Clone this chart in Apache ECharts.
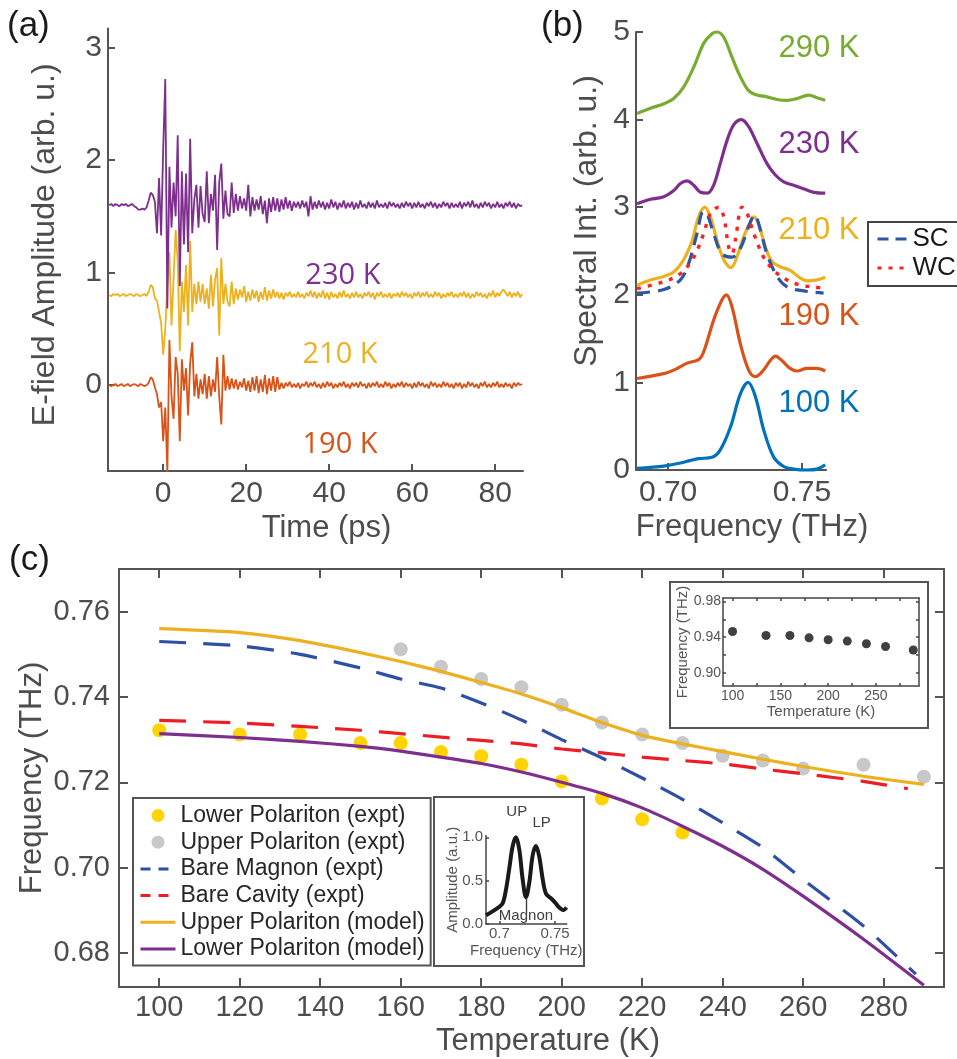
<!DOCTYPE html>
<html>
<head>
<meta charset="utf-8">
<title>Magnon polariton spectra</title>
<script src="https://cdn.jsdelivr.net/npm/echarts@6.0.0/dist/echarts.min.js"></script>
<style>
    * { margin: 0; padding: 0; }
    body { background: #fff; }
    #main { width: 957px; height: 1059px; }
</style>
</head>
<body>
<div id="main"></div>
<script>
// ---- (a) time traces: one sample every 0.5 ps from -13 ps, in 0.01 units above the trace baseline
var traceT0 = -13, traceDt = 0.5;
var trace230 = [
    0,1,-1,1,0,-1,1,0,1,-1,  0,1,-1,-2,-4,-4,-3,-4,-2,4,
    11,9,3,-25,24,-27,50,112,-92,34,  -20,20,-10,62,-72,30,-35,28,-42,59,
    -25,5,18,-20,17,-8,-15,30,-16,10,  -5,27,-40,20,37,-12,13,-8,-10,20,
    -7,10,-5,8,-3,6,-5,18,-10,7,  -5,5,-4,8,-8,4,-16,6,-6,7,
    -5,6,-6,5,-4,7,-3,4,-5,3,  -2,3,-3,4,-2,3,-10,8,-4,3,
    -3,4,-2,3,-4,2,-3,5,-2,3,  -4,2,-2,4,-3,2,-2,3,-4,2,
    -3,4,-2,1,-3,3,-2,2,-3,4,  -2,1,-2,2,-3,3,-1,2,-2,1,
    -3,2,-2,3,-1,2,-3,2,-2,3,  -2,1,-3,2,-1,3,-2,2,-3,1,
    -2,3,-1,2,-3,2,-2,1,-2,3,  -3,2,-1,3,-2,4,-2,1,-3,2,
    -2,3,-1,2,-3,1,-2,3,-2,1,  -3,2,-1,3,-2,2,-3,1,-1,0
];
var trace210 = [
    0,-1,1,0,1,-1,0,1,-1,0,  1,0,-1,1,0,-1,0,1,-1,3,
    9,7,-3,-5,-15,-25,-53,-30,10,38,  -27,15,58,30,-50,12,-15,27,-27,48,
    -15,10,-8,12,-6,10,-8,6,-12,18,  -10,14,24,-36,33,-8,10,-6,-10,12,
    -8,6,-4,5,-2,8,-6,3,-5,5,  -3,4,-6,3,-4,7,-5,4,-3,5,
    -2,3,-3,2,-4,2,-1,3,-2,1,  -2,3,-2,1,-3,2,-1,4,-2,3,
    -3,2,-2,4,-3,2,-4,3,-2,1,  -3,3,-2,4,-2,1,-3,2,-2,3,
    -2,1,-3,2,-1,3,-2,2,-4,2,  -1,3,-2,1,-2,2,-3,1,-1,2,
    -2,3,-1,2,-2,1,-3,2,-1,3,  -2,2,-1,3,-2,1,-2,3,-1,2,
    -3,1,-2,2,-1,3,-2,1,-2,2,  -1,3,-2,2,-3,1,-2,3,-1,2,
    -2,1,-3,2,-1,4,-2,2,-1,3,  5,2,-1,3,-2,2,-1,3,-2,1
];
var trace190 = [
    0,-1,0,1,-1,0,1,-1,0,1,  -1,0,1,0,-1,1,0,-1,0,2,
    7,5,-2,-8,-20,-15,-50,-20,-77,40,  -10,-30,25,10,-50,23,-5,15,-27,20,
    38,-10,10,-12,5,-8,10,-12,8,-10,  5,-6,25,-10,-35,27,-5,8,-4,6,
    -3,5,-4,3,-2,6,-5,4,-6,7,  -5,8,-7,5,-6,9,-8,6,-5,8,
    -6,7,-4,2,-3,2,-1,3,-2,1,  -2,2,-3,1,-1,3,-2,2,-1,3,
    -2,1,-3,2,-2,3,-1,2,-3,1,  -2,2,-1,3,-2,1,-3,2,-1,2,
    -2,3,-1,1,-3,2,-2,2,-1,3,  -2,1,-2,3,-1,2,-3,1,-2,2,
    -1,3,-2,2,-1,1,-3,2,-2,3,  -1,2,-2,1,-3,3,-1,2,-2,1,
    -2,3,-1,2,-2,1,-3,2,-1,2,  -3,1,-2,3,-1,2,-2,1,-3,2,
    -1,3,-2,1,-2,2,-1,3,-2,1,  -2,2,-1,1,-3,2,-1,2,0,1
];
var base230 = 1.6, base210 = 0.8, base190 = 0;

// ---- (b) spectra (already offset by 1 per temperature)
var f100 = [0.6884,0.6934,0.6984,0.7046,0.7084,0.7114,0.7164,0.7195,0.7233,0.7270,0.7299,0.7326,0.7357,0.7394,0.7432,0.7469,0.7519,0.7556,0.7587];
var s100 = [0.02,0.03,0.045,0.08,0.11,0.13,0.145,0.23,0.49,0.87,1.0,0.84,0.46,0.15,0.04,0.01,0.0,0.01,0.06];
var f190 = [0.6884,0.6984,0.7021,0.7071,0.7114,0.7133,0.7170,0.7201,0.7218,0.7239,0.7270,0.7301,0.7326,0.7351,0.7382,0.7401,0.7425,0.7456,0.7481,0.7519,0.7556,0.7587];
var s190 = [1.045,1.10,1.14,1.22,1.26,1.35,1.71,1.94,2.0,1.86,1.44,1.14,1.065,1.12,1.25,1.30,1.25,1.16,1.13,1.16,1.16,1.13];
var f210 = [0.6884,0.6934,0.6984,0.7021,0.7058,0.7090,0.7114,0.7137,0.7158,0.7183,0.7208,0.7235,0.7257,0.7282,0.7307,0.7320,0.7338,0.7363,0.7388,0.7419,0.7456,0.7494,0.7519,0.7556,0.7587];
var s210 = [2.11,2.17,2.21,2.26,2.40,2.62,2.89,3.0,2.89,2.62,2.40,2.31,2.43,2.66,2.83,2.89,2.81,2.55,2.38,2.32,2.28,2.19,2.16,2.17,2.20];
var fSC = [0.6884,0.6984,0.7046,0.7077,0.7108,0.7131,0.7146,0.7170,0.7201,0.7239,0.7270,0.7301,0.7323,0.7345,0.7369,0.7407,0.7444,0.7494,0.7544,0.7581];
var sSC = [2.02,2.06,2.17,2.36,2.70,2.95,2.92,2.70,2.47,2.43,2.53,2.78,2.91,2.74,2.47,2.21,2.09,2.05,2.03,2.02];
var fWC = [0.6884,0.6984,0.7046,0.7096,0.7133,0.7158,0.7189,0.7208,0.7226,0.7239,0.7251,0.7276,0.7295,0.7320,0.7357,0.7394,0.7444,0.7494,0.7544,0.7587];
var sWC = [2.07,2.15,2.24,2.43,2.70,2.93,3.0,2.89,2.55,2.47,2.62,3.0,2.93,2.70,2.43,2.28,2.17,2.11,2.09,2.07];
var f230 = [0.6884,0.6934,0.6984,0.7021,0.7046,0.7071,0.7096,0.7121,0.7146,0.7170,0.7195,0.7220,0.7245,0.7274,0.7301,0.7332,0.7369,0.7400,0.7432,0.7469,0.7506,0.7544,0.7587];
var s230 = [3.04,3.09,3.12,3.19,3.27,3.30,3.25,3.17,3.16,3.25,3.50,3.76,3.94,4.0,3.92,3.73,3.50,3.37,3.29,3.25,3.21,3.17,3.16];
var f290 = [0.6884,0.6934,0.6984,0.7021,0.7058,0.7096,0.7133,0.7164,0.7183,0.7208,0.7239,0.7270,0.7301,0.7332,0.7369,0.7407,0.7444,0.7481,0.7525,0.7556,0.7587];
var s290 = [4.07,4.13,4.18,4.24,4.37,4.60,4.87,4.98,5.0,4.94,4.71,4.49,4.33,4.28,4.26,4.23,4.22,4.24,4.28,4.25,4.22];

// ---- (c) polariton branches vs temperature
var tempLP = [100,120,135,150,160,170,180,190,200,210,220,230];
var freqLP = [0.7322,0.7312,0.7312,0.7292,0.7292,0.7271,0.7261,0.7241,0.7202,0.7162,0.7113,0.7082];
var tempUP = [160,170,180,190,200,210,220,230,240,250,260,275,290];
var freqUP = [0.7512,0.7471,0.7442,0.7423,0.7382,0.7340,0.7312,0.7292,0.7262,0.7251,0.7232,0.7241,0.7213];
var tempModel = [100,120,135,150,160,170,180,190,200,210,220,230,240,250,260,275,290];
var upModel = [0.7560,0.7551,0.7532,0.7504,0.7483,0.7460,0.7434,0.7407,0.7375,0.7340,0.7310,0.7290,0.7272,0.7254,0.7237,0.7214,0.7195];
var lpModel = [0.7314,0.7305,0.7296,0.7284,0.7273,0.7259,0.7244,0.7224,0.7200,0.7174,0.7140,0.7097,0.7050,0.6996,0.6933,0.6832,0.6724];
var tempMagnon = [100,120,135,150,160,170,180,190,200,210,220,230,240,250,260,275,288];
var magnonBare = [0.7530,0.7520,0.7500,0.7468,0.7442,0.7421,0.7386,0.7346,0.7300,0.7257,0.7210,0.7160,0.7105,0.7047,0.6972,0.6863,0.6750];
var tempCavity = [100,120,135,150,160,170,180,190,200,210,220,230,240,250,260,275,286];
var cavityBare = [0.7345,0.7339,0.7331,0.7322,0.7314,0.7306,0.7298,0.7290,0.7278,0.7269,0.7259,0.7251,0.7243,0.7231,0.7220,0.7202,0.7185];

// inset: high-frequency mode
var insetTemp = [100,135,160,180,200,220,240,260,289];
var insetFreq = [0.9463,0.9418,0.9418,0.9392,0.9370,0.9355,0.9325,0.9295,0.9255];
// inset: 210 K spectrum
var insetF = [0.688,0.6931,0.6991,0.7030,0.7060,0.7089,0.7120,0.7149,0.7179,0.7209,0.7239,0.7269,0.7299,0.7329,0.7358,0.7389,0.7419,0.7461,0.7499,0.7538,0.7574,0.7604];
var insetAmp = [0.10,0.14,0.19,0.24,0.40,0.64,0.90,1.0,0.86,0.52,0.31,0.48,0.79,0.90,0.78,0.52,0.35,0.30,0.25,0.19,0.16,0.19];

// tick values
var timeTicks = [0, 20, 40, 60, 80];
var ampTicks = [0, 1, 2, 3];
var specTicks = [0, 1, 2, 3, 4, 5];
var freqTicks = [0.70, 0.75];
var tempTicks = [100,120,140,160,180,200,220,240,260,280];
var freqCTicks = [0.68, 0.70, 0.72, 0.74, 0.76];

var FONT = 'Liberation Sans';
var AXIS = '#555555';
var TXT = '#4d4d4d';
var PURPLE = '#7E2F8E', YELLOW = '#EDB120', ORANGE = '#D95319', BLUE = '#0072BD', GREEN = '#77AC30';

function zip(xs, ys) {
    return xs.map(function (x, i) { return [x, ys[i]]; });
}
function traceData(arr, base) {
    return arr.map(function (d, i) { return [traceT0 + i * traceDt, base + d / 100]; });
}
function fixed(n) {
    return function (v) { return v.toFixed(n); };
}

function makeAxis(p) {
    var col = p.color || AXIS;
    return {
        type: 'value', gridIndex: p.grid, min: p.min, max: p.max, position: p.position,
        name: p.name || '', nameLocation: 'middle', nameGap: p.nameGap || 0, nameMoveOverlap: false,
        nameTextStyle: { fontFamily: FONT, fontSize: p.nameSize || 31, color: p.txt || TXT, padding: p.namePad || 0 },
        axisLine: { show: true, onZero: false, lineStyle: { color: col, width: p.lw || 2 } },
        axisTick: { show: true, inside: true, length: p.tickLen || 7, customValues: p.ticks, lineStyle: { color: col, width: p.lw || 2 } },
        axisLabel: { show: !!p.labels, customValues: p.labels, formatter: p.fmt, margin: p.margin || 8,
            fontFamily: FONT, fontSize: p.fontSize || 30, color: p.txt || TXT },
        splitLine: { show: false }
    };
}

function line(name, xi, yi, data, color, width, type, extra) {
    var s = {
        type: 'line', name: name, xAxisIndex: xi, yAxisIndex: yi, data: data,
        symbol: 'none', showSymbol: false, clip: false,
        lineStyle: { color: color, width: width, type: type || 'solid' },
        itemStyle: { color: color }
    };
    for (var k in extra) s[k] = extra[k];
    return s;
}

// legend entry for a plain line: hide the marker that the line legend icon adds
function lineKey(name, dash) {
    return { name: name, itemStyle: { opacity: 0 }, lineStyle: { type: dash || 'solid', width: 3 } };
}

var chart = echarts.init(document.getElementById('main'));

var option = {
    animation: false,
    backgroundColor: '#fff',
    grid: [
        { left: 108, top: 28.5, width: 415, height: 442.5, outerBoundsMode: 'none' },
        { left: 636, top: 32, width: 190, height: 438, outerBoundsMode: 'none' },
        { left: 119, top: 569, width: 825, height: 418, outerBoundsMode: 'none' },
        { left: 723, top: 598, width: 196, height: 88, outerBoundsMode: 'none' },
        { left: 486, top: 835.6, width: 80.7, height: 88.4, outerBoundsMode: 'none' }
    ],
    xAxis: [
        makeAxis({ grid: 0, min: -13.3, max: 86.7, position: 'bottom', ticks: timeTicks, labels: timeTicks,
            name: 'Time (ps)', nameGap: 42, namePad: [0, 0, 0, 22], margin: 8 }),
        makeAxis({ grid: 1, min: 0.688, max: 0.759, position: 'bottom', ticks: freqTicks, labels: freqTicks, fmt: fixed(2),
            name: 'Frequency (THz)', nameGap: 42, namePad: [0, 0, 0, 42], margin: 8 }),
        makeAxis({ grid: 2, min: 90, max: 295, position: 'bottom', ticks: tempTicks, labels: tempTicks, tickLen: 9,
            name: 'Temperature (K)', nameGap: 39, namePad: [0, 0, 0, 33], margin: 6, fontSize: 29 }),
        makeAxis({ grid: 2, min: 90, max: 295, position: 'top', ticks: tempTicks, tickLen: 9 }),
        makeAxis({ grid: 3, min: 90, max: 295, position: 'bottom', ticks: [100,125,150,175,200,225,250,275], labels: [100,150,200,250],
            name: 'Temperature (K)', nameGap: 18, nameSize: 15, fontSize: 14, margin: 3, tickLen: 3, lw: 1.5, color: '#444', txt: '#555' }),
        makeAxis({ grid: 3, min: 90, max: 295, position: 'top', ticks: [100,125,150,175,200,225,250,275], tickLen: 3, lw: 1.5, color: '#444' }),
        makeAxis({ grid: 4, min: 0.688, max: 0.7605, position: 'bottom', ticks: [0.7, 0.75], labels: [0.7, 0.75],
            name: 'Frequency (THz)', nameGap: 19, nameSize: 15, fontSize: 15, margin: 2, tickLen: 3, lw: 1.5, color: '#444', txt: '#555' })
    ],
    yAxis: [
        makeAxis({ grid: 0, min: -0.764, max: 3.17, position: 'left', ticks: ampTicks, labels: ampTicks,
            name: 'E-field Amplitude (arb. u.)', nameGap: 47, nameSize: 32, namePad: [0, 0, 0, 10], margin: 6 }),
        makeAxis({ grid: 1, min: 0, max: 5, position: 'left', ticks: specTicks, labels: specTicks,
            name: 'Spectral Int. (arb. u.)', nameGap: 33, nameSize: 32, namePad: [0, 0, 0, 60], margin: 6 }),
        makeAxis({ grid: 2, min: 0.672, max: 0.77, position: 'left', ticks: freqCTicks, labels: freqCTicks, fmt: fixed(2),
            name: 'Frequency (THz)', nameGap: 71, margin: 9, fontSize: 29, tickLen: 9 }),
        makeAxis({ grid: 2, min: 0.672, max: 0.77, position: 'right', ticks: freqCTicks, tickLen: 9 }),
        makeAxis({ grid: 3, min: 0.885, max: 0.984, position: 'left', ticks: [0.90,0.92,0.94,0.96,0.98], labels: [0.90,0.94,0.98], fmt: fixed(2),
            name: 'Frequency (THz)', nameGap: 33, nameSize: 15, fontSize: 14, margin: 2, tickLen: 3, lw: 1.5, color: '#444', txt: '#555' }),
        makeAxis({ grid: 3, min: 0.885, max: 0.984, position: 'right', ticks: [0.90,0.92,0.94,0.96,0.98], tickLen: 3, lw: 1.5, color: '#444' }),
        makeAxis({ grid: 4, min: 0, max: 1.02, position: 'left', ticks: [0, 0.5, 1], labels: [0, 0.5, 1], fmt: fixed(1),
            name: 'Amplitude (a.u.)', nameGap: 26, nameSize: 15, fontSize: 15, margin: 3, tickLen: 3, lw: 1.5, color: '#444', txt: '#555' })
    ],
    legend: [
        {
            orient: 'vertical', left: 133, top: 798, itemWidth: 35, itemHeight: 13, itemGap: 3.7,
            padding: [6, 6, 5, 6], borderColor: '#555', borderWidth: 2, backgroundColor: '#fff',
            textStyle: { fontFamily: FONT, fontSize: 23, lineHeight: 23, color: '#262626' },
            selectedMode: false,
            data: [
                { name: 'Lower Polariton (expt)', icon: 'circle' },
                { name: 'Upper Polariton (expt)', icon: 'circle' },
                lineKey('Bare Magnon (expt)', [10, 8]),
                lineKey('Bare Cavity (expt)', [10, 8]),
                lineKey('Upper Polariton (model)'),
                lineKey('Lower Polariton (model)')
            ]
        },
        {
            orient: 'vertical', left: 868, top: 222, itemWidth: 30, itemHeight: 14, itemGap: 3,
            padding: [4, 40, 5, 8], borderColor: '#444', borderWidth: 2, backgroundColor: '#fff',
            textStyle: { fontFamily: FONT, fontSize: 26, lineHeight: 26, color: '#1a1a1a' },
            selectedMode: false,
            data: [lineKey('SC', [11, 7]), lineKey('WC', [4, 7])]
        }
    ],
    series: [
        // (a)
        line('190 K trace', 0, 0, traceData(trace190, base190), ORANGE, 1.8),
        line('210 K trace', 0, 0, traceData(trace210, base210), YELLOW, 1.8),
        line('230 K trace', 0, 0, traceData(trace230, base230), PURPLE, 1.8),
        // (b)
        line('100 K', 1, 1, zip(f100, s100), BLUE, 3.2, null, { smooth: 0.35 }),
        line('190 K', 1, 1, zip(f190, s190), ORANGE, 3.2, null, { smooth: 0.35 }),
        line('210 K', 1, 1, zip(f210, s210), YELLOW, 3.2, null, { smooth: 0.35 }),
        line('SC', 1, 1, zip(fSC, sSC), '#2F55A5', 3.2, [13, 8], { smooth: 0.35 }),
        line('WC', 1, 1, zip(fWC, sWC), '#FF2020', 3.4, [4, 7], { smooth: 0.35 }),
        line('230 K', 1, 1, zip(f230, s230), PURPLE, 3.2, null, { smooth: 0.35 }),
        line('290 K', 1, 1, zip(f290, s290), GREEN, 3.2, null, { smooth: 0.35 }),
        // (c)
        { type: 'scatter', name: 'Lower Polariton (expt)', xAxisIndex: 2, yAxisIndex: 2, data: zip(tempLP, freqLP),
          symbol: 'circle', symbolSize: 14, itemStyle: { color: '#FFD400', opacity: 1 } },
        { type: 'scatter', name: 'Upper Polariton (expt)', xAxisIndex: 2, yAxisIndex: 2, data: zip(tempUP, freqUP),
          symbol: 'circle', symbolSize: 14, itemStyle: { color: '#C8C8C8', opacity: 1 } },
        line('Bare Magnon (expt)', 2, 2, zip(tempMagnon, magnonBare), '#2E4FA6', 3.2, [27, 17], { smooth: 0.2 }),
        line('Bare Cavity (expt)', 2, 2, zip(tempCavity, cavityBare), '#EE1C25', 3.2, [27, 17], { smooth: 0.2 }),
        line('Upper Polariton (model)', 2, 2, zip(tempModel, upModel), YELLOW, 3.2, null, { smooth: 0.2 }),
        line('Lower Polariton (model)', 2, 2, zip(tempModel, lpModel), PURPLE, 3.2, null, { smooth: 0.2 }),
        // inset: high-frequency mode
        { type: 'scatter', name: 'inset mode', xAxisIndex: 4, yAxisIndex: 4, data: zip(insetTemp, insetFreq),
          symbol: 'circle', symbolSize: 9, itemStyle: { color: '#404040', opacity: 1 } },
        // inset: 210 K spectrum with UP / LP / magnon marks
        line('inset spectrum', 6, 6, zip(insetF, insetAmp), '#1a1a1a', 4, null, {
            smooth: 0.35,
            markLine: {
                silent: true, symbol: ['none', 'arrow'], symbolSize: [0, 9], animation: false,
                lineStyle: { color: '#404040', width: 1.4, type: 'solid' },
                label: { show: false },
                data: [
                    [{ coord: [0.7149, 1.22] }, { coord: [0.7149, 1.03] }],
                    [{ coord: [0.7335, 1.10] }, { coord: [0.7335, 0.93] }],
                    [{ coord: [0.7239, 0.13] }, { coord: [0.7239, 0.29] }]
                ]
            }
        })
    ]
};

chart.setOption(option);

// text annotations placed in data coordinates
function pix(xi, yi, c) {
    return chart.convertToPixel({ xAxisIndex: xi, yAxisIndex: yi }, c);
}
var notes = [
    { axes: [0, 0], at: [43.3, 0.97], text: '230 K', color: PURPLE, size: 29, font: 'Open Sans' },
    { axes: [0, 0], at: [42.6, 0.27], text: '210 K', color: YELLOW, size: 29, font: 'Open Sans' },
    { axes: [0, 0], at: [42.6, -0.53], text: '190 K', color: ORANGE, size: 29, font: 'Open Sans' },
    { axes: [1, 1], at: [0.7564, 4.81], text: '290 K', color: GREEN, size: 31, font: FONT },
    { axes: [1, 1], at: [0.7564, 3.72], text: '230 K', color: PURPLE, size: 31, font: FONT },
    { axes: [1, 1], at: [0.7564, 2.73], text: '210 K', color: YELLOW, size: 31, font: FONT },
    { axes: [1, 1], at: [0.7564, 1.75], text: '190 K', color: ORANGE, size: 31, font: FONT },
    { axes: [1, 1], at: [0.7564, 0.76], text: '100 K', color: BLUE, size: 31, font: FONT },
    { axes: [6, 6], at: [0.7156, 1.29], text: 'UP', color: '#404040', size: 15, font: FONT },
    { axes: [6, 6], at: [0.7380, 1.17], text: 'LP', color: '#404040', size: 15, font: FONT },
    { axes: [6, 6], at: [0.7239, 0.09], text: 'Magnon', color: '#404040', size: 15, font: FONT }
];
var graphic = [
    // inset frames
    { type: 'rect', silent: true, shape: { x: 670, y: 582, width: 258, height: 146 },
      style: { fill: 'none', stroke: '#555', lineWidth: 2 } },
    { type: 'rect', silent: true, shape: { x: 434, y: 797, width: 150, height: 169 },
      style: { fill: 'none', stroke: '#555', lineWidth: 2 } },
    // panel letters
    { type: 'text', silent: true, x: 7, y: 9, style: { text: '(a)', fontSize: 35, fontFamily: FONT, fill: '#1a1a1a', align: 'left', verticalAlign: 'top' } },
    { type: 'text', silent: true, x: 541, y: 9, style: { text: '(b)', fontSize: 35, fontFamily: FONT, fill: '#1a1a1a', align: 'left', verticalAlign: 'top' } },
    { type: 'text', silent: true, x: 9, y: 543, style: { text: '(c)', fontSize: 35, fontFamily: FONT, fill: '#1a1a1a', align: 'left', verticalAlign: 'top' } }
];
notes.forEach(function (n) {
    var p = pix(n.axes[0], n.axes[1], n.at);
    graphic.push({
        type: 'text', silent: true, x: p[0], y: p[1],
        style: { text: n.text, fill: n.color, fontSize: n.size, fontFamily: n.font, align: 'center', verticalAlign: 'middle' }
    });
});
chart.setOption({ graphic: graphic });
</script>
</body>
</html>
